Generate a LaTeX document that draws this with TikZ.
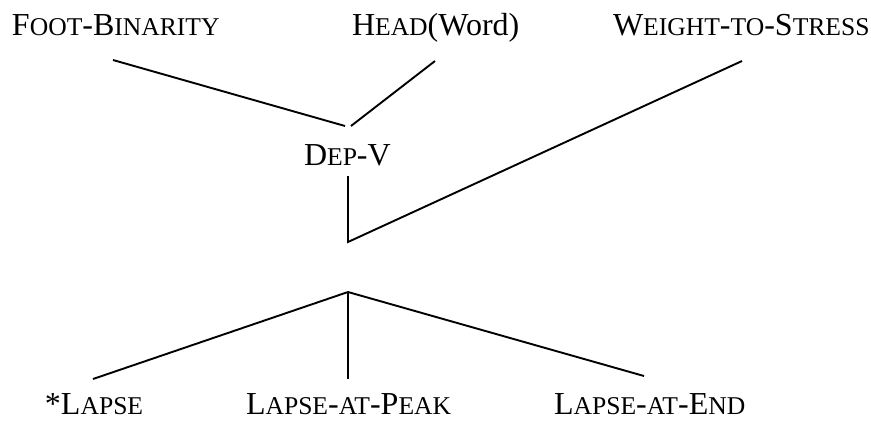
\documentclass[tikz,border=0pt]{standalone}
\usepackage{fontspec}
\setmainfont{Liberation Serif}
\newcommand\smc[1]{{\fontsize{25.6}{30}\selectfont #1}}
\begin{document}
\begin{tikzpicture}[x=1pt,y=-1pt,
  lbl/.style={anchor=base west,inner sep=0pt,outer sep=0pt,font=\fontsize{32}{38}\selectfont},
  edge/.style={line width=1.9pt,line cap=butt}]
\useasboundingbox (0,0) rectangle (871,421);
% labels
\node[lbl] (fb)  at (12,35)  {F\smc{OOT}-B\smc{INARITY}};
\node[lbl] (hw)  at (352,35) {H\smc{EAD}(Word)};
\node[lbl] (wts) at (613,35) {W\smc{EIGHT}-\smc{TO}-S\smc{TRESS}};
\node[lbl] (dep) at (304,165) {D\smc{EP}-V};
\node[lbl] (lap) at (45,414) {*L\smc{APSE}};
\node[lbl] (lp)  at (246,414) {L\smc{APSE}-\smc{AT}-P\smc{EAK}};
\node[lbl] (le)  at (554,414) {L\smc{APSE}-\smc{AT}-E\smc{ND}};
% connector end points
\coordinate (fbE) at (113,60);
\coordinate (hwE) at (435,61);
\coordinate (wtsE) at (742,61);
\coordinate (depL) at (345,126);
\coordinate (depR) at (351,126);
\coordinate (depT) at (348,176);
\coordinate (depB) at (348,242);
\coordinate (apex) at (348,292);
\coordinate (lapE) at (93,379);
\coordinate (lpE) at (348,379);
\coordinate (leE) at (644,376);
% connectors
\draw[edge] (fbE) -- (depL);
\draw[edge] (hwE) -- (depR);
\draw[edge] (wtsE) -- (depB) -- (depT);
\draw[edge] (apex) -- (lapE);
\draw[edge] (apex) -- (lpE);
\draw[edge] (apex) -- (leE);
\end{tikzpicture}
\end{document}
